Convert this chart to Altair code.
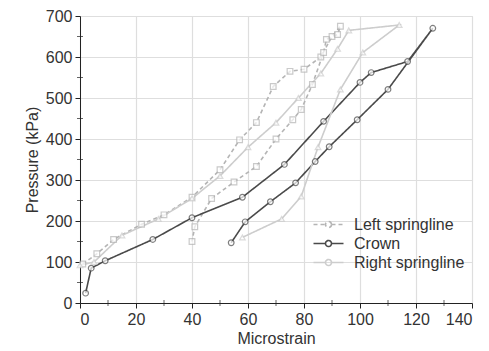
import altair as alt
import pandas as pd

# Strain gauge readings (microstrain) against applied pressure (kPa),
# listed in test order: loading up to the peak, then unloading.
left_strain = [1, 6, 12, 22, 30, 40, 50, 57, 63, 69, 75, 80, 86, 90, 93,
               92, 88, 87, 83, 79, 76, 70, 63, 55, 47, 41, 40]
left_pressure = [95, 120, 155, 192, 215, 258, 325, 398, 440, 528, 565, 570, 600, 650, 675,
                 655, 643, 611, 533, 472, 447, 400, 333, 295, 255, 186, 150]

crown_strain = [2, 4, 9, 26, 40, 58, 73, 87, 100, 104, 117, 126,
                110, 99, 89, 84, 77, 68, 59, 54]
crown_pressure = [24, 85, 103, 155, 208, 258, 338, 443, 538, 562, 589, 670,
                  521, 447, 381, 345, 293, 247, 198, 147]

right_strain = [0, 5, 15, 28, 40, 50, 60, 70, 78, 86, 92, 96, 114,
                101, 93, 85, 79, 72, 58]
right_pressure = [92, 100, 165, 205, 255, 310, 380, 440, 500, 560, 620, 665, 678,
                  611, 521, 380, 260, 205, 160]

series = ["Left springline", "Crown", "Right springline"]

rows = []
for name, xs, ys in [(series[0], left_strain, left_pressure),
                     (series[1], crown_strain, crown_pressure),
                     (series[2], right_strain, right_pressure)]:
    for i, (x, y) in enumerate(zip(xs, ys)):
        rows.append({"Gauge": name, "Marker": name, "strain": x, "pressure": y, "step": i})
df = pd.DataFrame(rows)

colors = ["#b4b4b4", "#4a4a4a", "#cdcdcd"]
dashes = [[4, 3], [1, 0], [1, 0]]
shapes = ["square", "circle", "triangle-up"]

# legend glyph: a short line with a small open circle in the middle
legend_glyph = ("M-2,0H-0.4 M0.4,0H2 "
                "M0.4,0A0.4,0.4 0 1,1 -0.4,0A0.4,0.4 0 1,1 0.4,0")

FONT = "Liberation Sans"
axis_style = dict(gridColor="#dedede", gridWidth=1.2, domainColor="#222",
                  tickColor="#222", tickSize=5, labelFontSize=16, titleFontSize=16,
                  labelColor="#333", titleColor="#333", labelPadding=3,
                  labelFont=FONT, titleFont=FONT, titleFontWeight="normal")

x_axis = alt.Axis(values=list(range(0, 141, 20)), title="Microstrain",
                  titlePadding=3, **axis_style)
y_axis = alt.Axis(values=list(range(0, 701, 100)), title="Pressure (kPa)",
                  titlePadding=5, **axis_style)

x_enc = alt.X("strain:Q", scale=alt.Scale(domain=[0, 140], nice=False), axis=x_axis)
y_enc = alt.Y("pressure:Q", scale=alt.Scale(domain=[0, 700], nice=False), axis=y_axis)

legend_style = dict(title=None, orient="none", legendX=240, legendY=200,
                    symbolType=legend_glyph, symbolSize=225,
                    symbolStrokeWidth=1.6, labelFontSize=16,
                    labelFont=FONT, labelColor="#333",
                    rowPadding=2, labelOffset=17)

color_enc = alt.Color("Gauge:N", sort=series,
                      scale=alt.Scale(domain=series, range=colors),
                      legend=alt.Legend(**legend_style))
dash_enc = alt.StrokeDash("Gauge:N", sort=series,
                          scale=alt.Scale(domain=series, range=dashes),
                          legend=alt.Legend(**legend_style))

lines = alt.Chart(df).mark_line(strokeWidth=1.6).encode(
    x=x_enc, y=y_enc, color=color_enc, strokeDash=dash_enc,
    order="step:Q", detail="Gauge:N")

points = alt.Chart(df).mark_point(size=32, filled=False, fill="white", strokeWidth=1.2).encode(
    x=x_enc, y=y_enc,
    stroke=alt.Stroke("Marker:N", sort=series,
                      scale=alt.Scale(domain=series, range=colors), legend=None),
    shape=alt.Shape("Marker:N", sort=series,
                    scale=alt.Scale(domain=series, range=shapes), legend=None))

# minor ticks halfway between labelled ticks on both axes
minor_x = pd.DataFrame({"v": list(range(10, 140, 20))})
minor_y = pd.DataFrame({"v": list(range(50, 700, 100))})
xticks = alt.Chart(minor_x).mark_tick(color="#222", thickness=1, size=6).encode(
    x="v:Q", y=alt.value(287))
yticks = alt.Chart(minor_y).mark_tick(color="#222", thickness=1, size=6, orient="horizontal").encode(
    y="v:Q", x=alt.value(0))

chart = alt.layer(lines, points, xticks, yticks).resolve_scale(
    shape="independent"
).properties(
    width=392, height=287,
    autosize=alt.AutoSizeParams(type="none"),
    padding={"left": 80, "top": 16, "right": 17, "bottom": 48},
).configure_view(stroke=None).configure(background="white")

chart.save("out.html", embed_options={"renderer": "svg", "actions": False})
